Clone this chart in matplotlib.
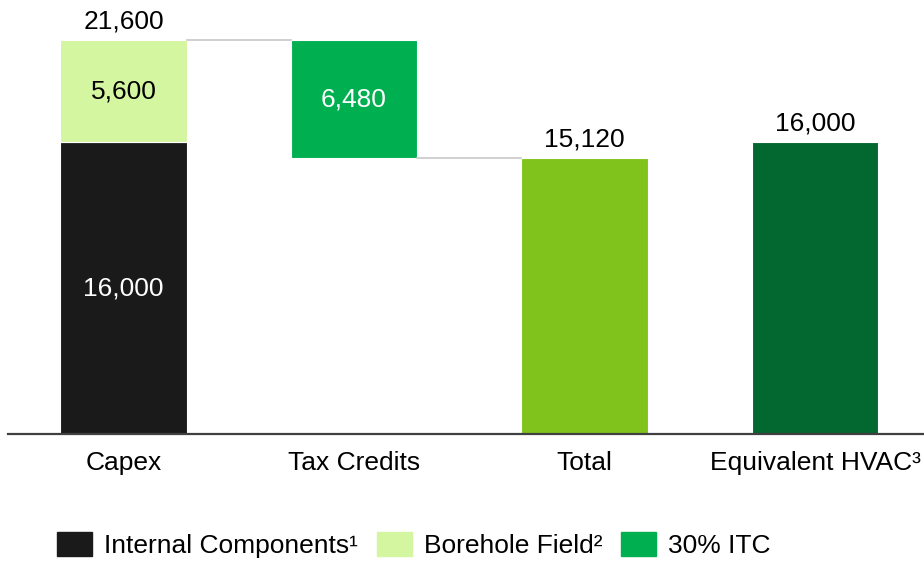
import numpy as np
import matplotlib.pyplot as plt
from matplotlib.patches import Patch

plt.rcParams['font.family'] = ['Liberation Sans', 'DejaVu Sans']

# Data
categories = ['Capex', 'Tax Credits', 'Total', 'Equivalent HVAC³']
internal_components = 16000
borehole_field = 5600
itc = 6480
total = 15120
hvac = 16000

c_black = '#1a1a1a'
c_bore = '#d5f6a0'
c_itc = '#00b050'
c_total = '#7fc31c'
c_hvac = '#036830'

fig = plt.figure(figsize=(9.24, 5.61), dpi=100)
ax = fig.add_axes([0.0087, 0.2264, 0.9913, 0.7736])

x = np.arange(len(categories))
width = 0.55
capex_total = internal_components + borehole_field

ax.bar(x[0], internal_components, width, color=c_black, edgecolor='white', linewidth=0.8)
ax.bar(x[0], borehole_field, width, bottom=internal_components, color=c_bore, edgecolor='white', linewidth=0.8)
ax.bar(x[1], itc, width, bottom=capex_total - itc, color=c_itc, edgecolor='white', linewidth=0.8)
ax.bar(x[2], total, width, color=c_total, edgecolor='white', linewidth=0.8)
ax.bar(x[3], hvac, width, color=c_hvac, edgecolor='white', linewidth=0.8)

# connector lines
ax.plot([x[0] + width / 2, x[1] - width / 2], [capex_total, capex_total], color='#c8c8c8', lw=1.2)
ax.plot([x[1] + width / 2, x[2] - width / 2], [total, total], color='#c8c8c8', lw=1.2)

fs = 19
ax.text(x[0], internal_components / 2, f'{internal_components:,}', ha='center', va='center', color='white', fontsize=fs)
ax.text(x[0], internal_components + borehole_field / 2, f'{borehole_field:,}', ha='center', va='center', color='black', fontsize=fs)
ax.text(x[0], capex_total + 350, f'{capex_total:,}', ha='center', va='bottom', color='black', fontsize=fs)
ax.text(x[1], capex_total - itc / 2, f'{itc:,}', ha='center', va='center', color='white', fontsize=fs)
ax.text(x[2], total + 350, f'{total:,}', ha='center', va='bottom', color='black', fontsize=fs)
ax.text(x[3], hvac + 350, f'{hvac:,}', ha='center', va='bottom', color='black', fontsize=fs)

ax.set_xlim(-0.501, 3.473)
ax.set_ylim(0, 23790)
ax.set_xticks(x)
ax.set_xticklabels(categories, fontsize=fs)
ax.tick_params(axis='x', length=0, pad=12)
ax.set_yticks([])
for s in ['top', 'right', 'left']:
    ax.spines[s].set_visible(False)
ax.spines['bottom'].set_color('#404040')
ax.spines['bottom'].set_linewidth(1.6)

handles = [Patch(color=c_black), Patch(color=c_bore), Patch(color=c_itc)]
labels = ['Internal Components¹', 'Borehole Field²', '30% ITC']
fig.legend(handles, labels, loc='center left', bbox_to_anchor=(0.062, 0.028), ncol=3, frameon=False,
           fontsize=fs, handlelength=1.33, handleheight=1.0, handletextpad=0.45, columnspacing=0.7,
           borderaxespad=0, borderpad=0)

fig.savefig('out.png', dpi=100)
